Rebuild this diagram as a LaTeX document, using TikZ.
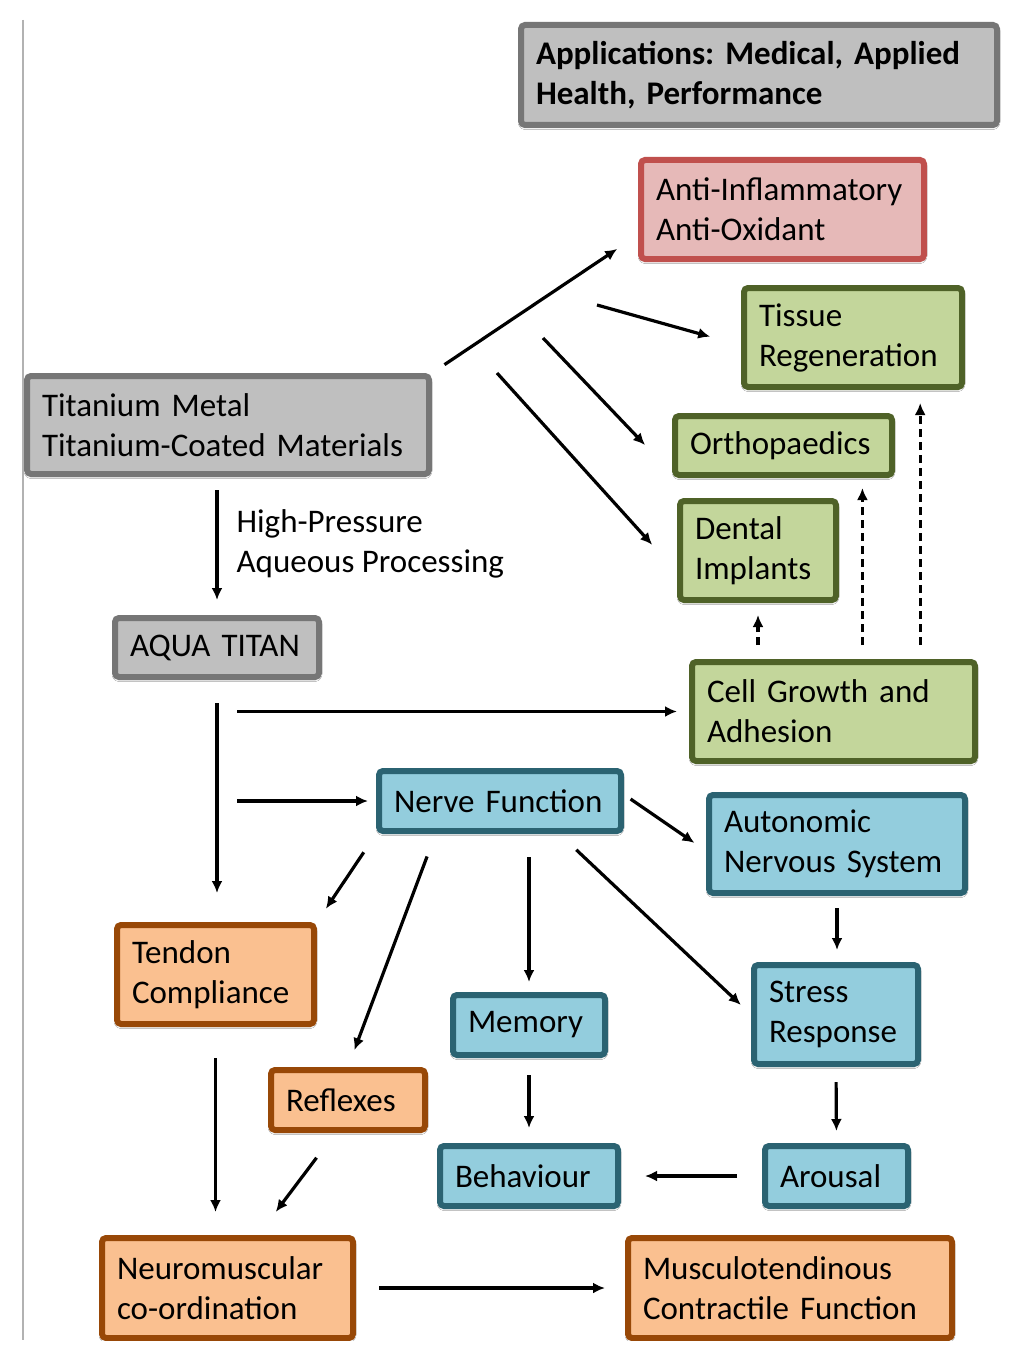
\documentclass[tikz,border=0pt]{standalone}
\usepackage{fontspec}
\setmainfont{Carlito}
\frenchspacing
\usetikzlibrary{arrows.meta,calc,shadows.blur}
\definecolor{greyfill}{HTML}{BFBFBF}
\definecolor{greyline}{HTML}{767676}
\definecolor{pinkfill}{HTML}{E6B9B8}
\definecolor{pinkline}{HTML}{C0504D}
\definecolor{greenfill}{HTML}{C3D69B}
\definecolor{greenline}{HTML}{4F6228}
\definecolor{bluefill}{HTML}{93CDDD}
\definecolor{blueline}{HTML}{2B6372}
\definecolor{orangefill}{HTML}{FAC090}
\definecolor{orangeline}{HTML}{984807}

\begin{document}
\begin{tikzpicture}[
    x=0.5pt, y=-0.5pt,
    basebox/.style={draw, line width=3pt, rounded corners=2pt, inner xsep=7.5pt, inner ysep=2pt,
      align=left, font=\fontsize{16.5}{20}\selectfont,
      blur shadow={shadow xshift=0pt, shadow yshift=-0.8pt, shadow blur radius=1.5pt, shadow opacity=35}},
    greybox/.style={basebox, fill=greyfill, draw=greyline},
    pinkbox/.style={basebox, fill=pinkfill, draw=pinkline},
    greenbox/.style={basebox, fill=greenfill, draw=greenline},
    bluebox/.style={basebox, fill=bluefill, draw=blueline},
    orangebox/.style={basebox, fill=orangefill, draw=orangeline},
    arr/.style={-{Latex[length=6pt,width=5.5pt]}, line width=1.6pt},
    dasharr/.style={arr, dash pattern=on 4pt off 2.5pt},
    thickarr/.style={arr, line width=2.4pt},
    lbl/.style={font=\fontsize{16.5}{20}\selectfont, align=left, inner sep=0pt}
  ]
    \useasboundingbox (0,0) rectangle (1024,1364);
    \fill[white] (0,0) rectangle (1024,1364);
    \clip (0,0) rectangle (1024,1340);
    \draw[gray!60, line width=0.6pt] (23,20) -- (23,1340);

    \node[greybox, font=\fontsize{16.5}{20}\selectfont\bfseries, text width=223pt, minimum height=50pt] (app) at (759,75) {Applications: Medical, Applied\\Health, Performance};
    \node[pinkbox, text width=126.5pt, minimum height=49.5pt] (anti) at (782.5,209.5) {Anti-Inflammatory\\Anti-Oxidant};
    \node[greenbox, text width=94pt, minimum height=49.5pt] (tissue) at (853,337.5) {Tissue\\Regeneration};
    \node[greenbox, text width=93.5pt, minimum height=29.5pt] (ortho) at (783.5,445.5) {Orthopaedics};
    \node[greenbox, text width=63pt, minimum height=49.5pt] (dental) at (758,550.5) {Dental\\Implants};
    \node[greenbox, text width=126.5pt, minimum height=49.5pt] (cell) at (833.5,711.5) {Cell Growth and\\Adhesion};
    \node[greybox, text width=186pt, minimum height=49pt] (ti) at (228,425) {Titanium Metal\\Titanium-Coated Materials};
    \node[greybox, text width=87pt, minimum height=29.5pt] (aqua) at (217,647.5) {AQUA TITAN};
    \node[bluebox, text width=106pt, minimum height=30pt] (nerve) at (500,801) {Nerve Function};
    \node[bluebox, text width=113pt, minimum height=49pt] (ans) at (837,844) {Autonomic\\Nervous System};
    \node[orangebox, text width=83.5pt, minimum height=49.5pt] (tendon) at (215.5,974.5) {Tendon\\Compliance};
    \node[bluebox, text width=61pt, minimum height=30pt] (mem) at (529,1025) {Memory};
    \node[bluebox, text width=67pt, minimum height=49.5pt] (stress) at (836,1014.5) {Stress\\Response};
    \node[orangebox, text width=62pt, minimum height=30pt] (refl) at (348,1100) {Reflexes};
    \node[bluebox, text width=74pt, minimum height=30pt] (behav) at (529,1176) {Behaviour};
    \node[bluebox, text width=56.5pt, minimum height=30pt] (arousal) at (836.5,1176) {Arousal};
    \node[orangebox, text width=110.5pt, minimum height=50pt] (nm) at (227.5,1288) {Neuromuscular\\co-ordination};
    \node[orangebox, text width=147pt, minimum height=50pt] (mtc) at (790,1288) {Musculotendinous\\Contractile Function};

    \coordinate (f1) at (597,305);
    \coordinate (f2) at (543,338);
    \coordinate (f3) at (497,373);
    \draw[arr, shorten <=7.5pt, shorten >=12.5pt] (ti.north east) -- (anti.190);
    \draw[arr, shorten >=16pt] (f1) -- (tissue.184);
    \draw[arr, shorten >=19.5pt] (f2) -- (ortho.194);
    \draw[arr, shorten >=18.5pt] (f3) -- (dental.195);

    \coordinate (c1) at ($(cell.north west)!0.6!(cell.north east)$);
    \coordinate (c2) at ($(cell.north west)!0.8!(cell.north east)$);
    \draw[dasharr, shorten <=7pt, shorten >=6pt] (dental.south |- cell.north) -- (dental.south);
    \draw[dasharr, shorten <=7pt, shorten >=5pt] (c1) -- (c1 |- ortho.south);
    \draw[dasharr, shorten <=7pt, shorten >=6.5pt] (c2) -- (c2 |- tissue.south);

    \draw[arr, shorten <=6.5pt, shorten >=7.5pt] (aqua.north |- ti.south) -- node[lbl, right=9pt, yshift=1pt] {High-Pressure\\Aqueous Processing} (aqua.north);
    \draw[arr, shorten <=11.5pt, shorten >=14.5pt] (aqua.south) -- (aqua.south |- tendon.north);
    \draw[arr, shorten <=10pt, shorten >=6pt] (aqua.south |- cell.west) -- (cell.west);
    \draw[arr, shorten <=10pt, shorten >=4pt] (aqua.south |- nerve.west) -- (nerve.west);

    \coordinate (n1) at ($(nerve.south west)!0.24!(nerve.south east)$);
    \coordinate (n2) at ($(nerve.south west)!0.74!(nerve.south east)$);
    \draw[arr, shorten <=11pt, shorten >=8pt] (nerve.south west) -- (tendon.north east);
    \draw[arr, shorten <=12pt, shorten >=9pt] (n1) -- (refl.north);
    \draw[arr, shorten <=11.5pt, shorten >=5pt] (mem.north |- nerve.south) -- (mem.north);
    \draw[arr, shorten <=11.5pt, shorten >=7pt] (n2) -- (stress.west);
    \draw[arr, shorten <=4pt, shorten >=7pt] (nerve.3) -- (ans.183);

    \draw[arr, shorten <=6pt, shorten >=6pt] (ans.south) -- (ans.south |- stress.north);
    \draw[arr, shorten <=8.5pt, shorten >=7.5pt] (mem.south) -- (behav.north);
    \draw[arr, shorten <=7.5pt, shorten >=6pt] (stress.south) -- (arousal.north);
    \draw[thickarr, shorten <=12.5pt, shorten >=12pt] (arousal.west) -- (behav.east);

    \coordinate (r1) at ($(refl.south west)!0.42!(refl.south east)$);
    \coordinate (r2) at ($(nm.north west)!0.62!(nm.north east)$);
    \draw[arr, shorten <=15.5pt, shorten >=11.5pt] (tendon.south) -- (tendon.south |- nm.north);
    \draw[arr, shorten <=15.5pt, shorten >=14.5pt] (r1) -- (r2);
    \draw[thickarr, shorten <=11.5pt, shorten >=10pt] (nm.east) -- (mtc.west);
\end{tikzpicture}
\end{document}
